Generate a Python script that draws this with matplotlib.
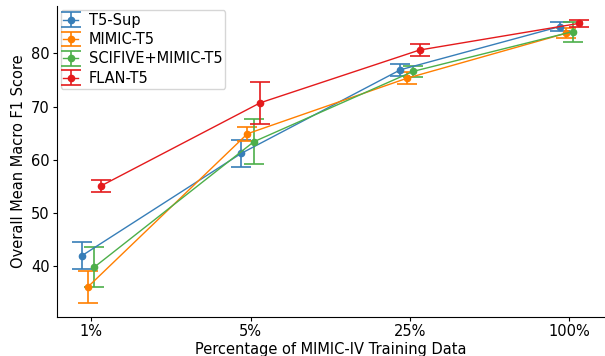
import numpy as np
import matplotlib.pyplot as plt

# training data fractions
labels = ['1%', '5%', '25%', '100%']
models = ['T5-Sup', 'MIMIC-T5', 'SCIFIVE+MIMIC-T5', 'FLAN-T5']

# mean macro F1 and error half-widths, one list per model
t5_sup = [42.0, 61.2, 76.9, 85.0]
t5_sup_err = [2.5, 2.5, 1.1, 0.9]
mimic_t5 = [36.2, 64.9, 75.3, 83.75]
mimic_t5_err = [3.0, 1.3, 1.1, 0.95]
scifive = [39.9, 63.4, 76.6, 84.05]
scifive_err = [3.7, 4.2, 1.0, 1.85]
flan_t5 = [55.1, 70.7, 80.6, 85.6]
flan_t5_err = [1.1, 3.9, 1.1, 0.6]

means = [t5_sup, mimic_t5, scifive, flan_t5]
errs = [t5_sup_err, mimic_t5_err, scifive_err, flan_t5_err]
colors = ['#377eb8', '#ff7f00', '#4daf4a', '#e41a1c']
offsets = [-0.06, -0.02, 0.02, 0.06]

fig, ax = plt.subplots(figsize=(6.05, 3.56), dpi=100)
x = np.arange(len(labels))

for i in range(len(models)):
    ax.errorbar(x + offsets[i], means[i], yerr=errs[i], color=colors[i],
                marker='o', markersize=4.5, linewidth=1, capsize=7,
                elinewidth=1.2, capthick=1.2, label=models[i])

ax.set_xticks(x)
ax.set_xticklabels(labels)
ax.tick_params(axis='both', labelsize=10.5, length=2.8, pad=2.5)
ax.set_xlabel('Percentage of MIMIC-IV Training Data', fontsize=10.5, labelpad=2)
ax.set_ylabel('Overall Mean Macro F1 Score', fontsize=10.5, labelpad=3.5)
ax.spines['top'].set_visible(False)
ax.spines['right'].set_visible(False)
ax.legend(loc='upper left', fontsize=10.5, handlelength=1.0,
          borderpad=0.2, labelspacing=0.3, handletextpad=0.75,
          borderaxespad=0.25)

plt.subplots_adjust(left=0.094, right=0.998, top=0.983, bottom=0.11)
plt.savefig('out.png')
